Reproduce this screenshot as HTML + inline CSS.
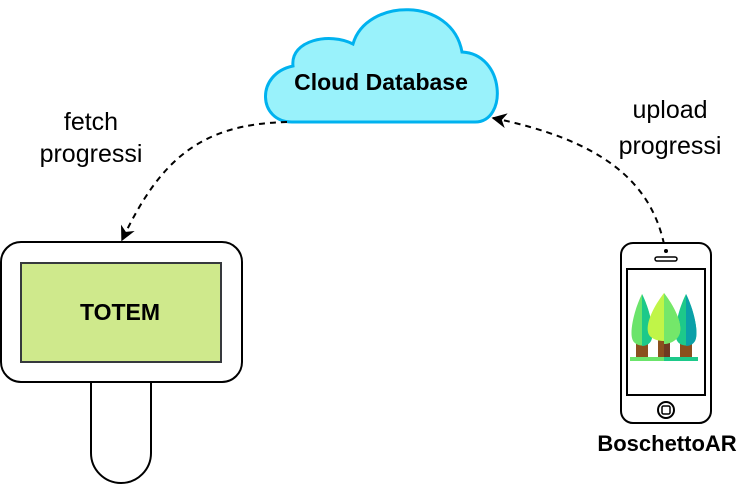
<!DOCTYPE html>
<html><head><meta charset="utf-8"><style>
html,body{margin:0;padding:0;background:#fff;width:756px;height:484px;overflow:hidden}
svg{display:block}
text{font-family:"Liberation Sans",Arial,sans-serif}
</style></head><body>
<svg width="756" height="484" viewBox="0 0 756 484" xmlns="http://www.w3.org/2000/svg">
<defs>
<marker id="ah" viewBox="0 0 10 10" refX="9" refY="5" markerWidth="15" markerHeight="15" markerUnits="userSpaceOnUse" orient="auto">
<path d="M0,0 L10,5 L0,10 L3,5 Z" fill="#000"/>
</marker>
</defs>
<!-- cloud -->
<path d="M292,122 C258,122 255,74 293,66 C290,40 330,32 353,44 C366,-2 452,-4 462,52 C505,54 508,122 475,122 Z" fill="#99f2fb" stroke="#00b2ef" stroke-width="3"/>
<text x="381" y="90" font-size="23" font-weight="bold" text-anchor="middle">Cloud Database</text>
<!-- connectors -->
<path d="M287,122 C200,124 160,160 122,240" fill="none" stroke="#000" stroke-width="2" stroke-dasharray="6,5" marker-end="url(#ah)"/>
<path d="M664,244 C650,180 600,140 493,118" fill="none" stroke="#000" stroke-width="2" stroke-dasharray="6,5" marker-end="url(#ah)"/>
<text x="91" y="130" font-size="25" text-anchor="middle">fetch</text>
<text x="91" y="162" font-size="25" text-anchor="middle">progressi</text>
<text x="670" y="118" font-size="25" text-anchor="middle">upload</text>
<text x="670" y="154" font-size="25" text-anchor="middle">progressi</text>
<!-- totem -->
<path d="M91,382 L91,453 A30,30 0 0 0 151,453 L151,382" fill="#fff" stroke="#000" stroke-width="2"/>
<rect x="1" y="242" width="241" height="140" rx="20" fill="#fff" stroke="#000" stroke-width="2"/>
<rect x="21" y="263" width="200" height="99" fill="#cfe98c" stroke="#36393d" stroke-width="2"/>
<text x="120" y="320" font-size="23" font-weight="bold" text-anchor="middle">TOTEM</text>
<!-- phone -->
<rect x="621" y="243" width="90" height="180" rx="12" fill="#fff" stroke="#000" stroke-width="2"/>
<rect x="627" y="269" width="78" height="126" fill="#fff" stroke="#000" stroke-width="2"/>
<circle cx="666" cy="251" r="2" fill="#000"/>
<rect x="655" y="257" width="22" height="4" rx="2" fill="none" stroke="#000" stroke-width="1.5"/>
<circle cx="666" cy="410" r="8" fill="none" stroke="#000" stroke-width="2"/>
<rect x="662" y="406" width="8" height="8" rx="1.5" fill="none" stroke="#000" stroke-width="1.5"/>
<!-- trees -->
<rect x="636" y="342" width="12" height="15" fill="#8b4f1e"/>
<rect x="680" y="342" width="12" height="15" fill="#8b4f1e"/>
<path d="M642,294 C634,310 630,330 632,338 C634,348 650,348 652,338 C654,330 650,310 642,294 Z" fill="#6be46b"/>
<path d="M642,294 C650,310 654,330 652,338 C651,344 646,346 642,346 Z" fill="#1dc98a"/>
<path d="M686,294 C678,310 674,330 676,338 C678,348 694,348 696,338 C698,330 694,310 686,294 Z" fill="#1dc98a"/>
<path d="M686,294 C694,310 698,330 696,338 C695,344 690,346 686,346 Z" fill="#0aa0a8"/>
<rect x="658" y="340" width="12" height="17" fill="#8b4f1e"/>
<rect x="664" y="340" width="6" height="17" fill="#6e3a22"/>
<path d="M664,293 C654,306 646,322 648,332 C650,344 678,344 680,332 C682,322 674,306 664,293 Z" fill="#c0f548"/>
<path d="M664,293 C674,306 682,322 680,332 C679,340 670,344 664,344 Z" fill="#74e76a"/>
<rect x="630" y="357" width="34" height="4" fill="#6be46b"/>
<rect x="664" y="357" width="34" height="4" fill="#1dc98a"/>
<text x="667" y="451" font-size="22" font-weight="bold" text-anchor="middle">BoschettoAR</text>
</svg>
</body></html>
